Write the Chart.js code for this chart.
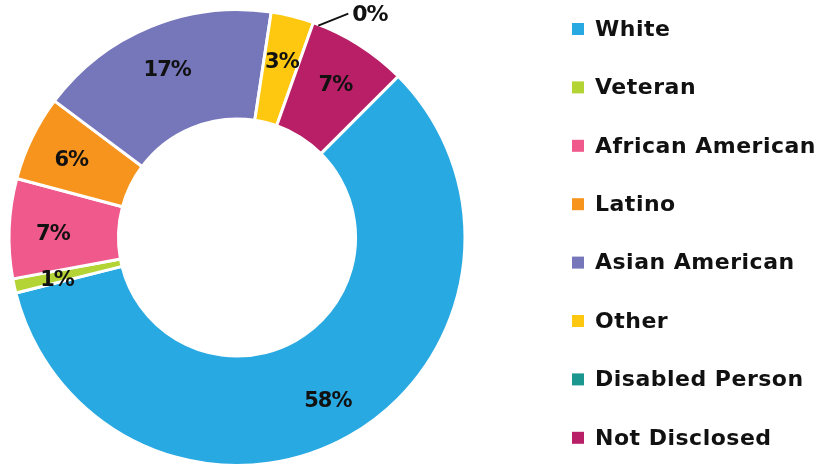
<!DOCTYPE html>
<html>
<head>
<meta charset="utf-8">
<script src="https://cdn.jsdelivr.net/npm/chart.js@4"></script>
<style>
  html, body { margin: 0; padding: 0; background: #fff; }
  #wrap { position: relative; width: 821px; height: 467px; }
</style>
</head>
<body>
<div id="wrap"><canvas id="chart"></canvas></div>
<script>
const groups = ['White', 'Veteran', 'African American', 'Latino', 'Asian American', 'Other', 'Disabled Person', 'Not Disclosed'];
const shares = [58, 1, 7, 6, 17, 3, 0, 7];
const colors = ['#29a9e1', '#b4d335', '#f0598b', '#f7941e', '#7677bb', '#fec810', '#1c9790', '#b81f66'];

const fontFamily = '"DejaVu Sans", sans-serif';

// percent labels inside each slice, empty slices get a leader line outside
const sliceLabels = {
  id: 'sliceLabels',
  afterDatasetsDraw(chart) {
    const ctx = chart.ctx;
    const meta = chart.getDatasetMeta(0);
    ctx.save();
    ctx.fillStyle = '#111';
    ctx.textBaseline = 'middle';
    meta.data.forEach((arc, i) => {
      const text = shares[i] + '%';
      const mid = (arc.startAngle + arc.endAngle) / 2;
      if (shares[i] === 0) {
        const r = arc.outerRadius;
        const x0 = arc.x + Math.cos(mid) * r + 5;
        const y0 = arc.y + Math.sin(mid) * r + 3;
        const x1 = x0 + 30;
        const y1 = y0 - 12;
        ctx.strokeStyle = '#111';
        ctx.lineWidth = 2;
        ctx.beginPath();
        ctx.moveTo(x0, y0);
        ctx.lineTo(x1, y1);
        ctx.stroke();
        ctx.font = 'bold 22px ' + fontFamily;
        ctx.letterSpacing = '-1px';
        ctx.textAlign = 'left';
        ctx.fillText(text, x1 + 4, y1 + 2);
        return;
      }
      const r = arc.innerRadius + (arc.outerRadius - arc.innerRadius) * 0.6;
      ctx.font = 'bold 21px ' + fontFamily;
      ctx.letterSpacing = '-1px';
      ctx.textAlign = 'center';
      ctx.fillText(text, arc.x + Math.cos(mid) * r, arc.y + Math.sin(mid) * r + 4);
    });
    ctx.restore();
  }
};

// legend column to the right of the ring
const sideLegend = {
  id: 'sideLegend',
  afterDraw(chart) {
    const ctx = chart.ctx;
    ctx.save();
    ctx.font = 'bold 22px ' + fontFamily;
    ctx.letterSpacing = '0.5px';
    ctx.textBaseline = 'middle';
    ctx.textAlign = 'left';
    groups.forEach((name, i) => {
      const y = 29 + i * 58.4;
      ctx.fillStyle = colors[i];
      ctx.fillRect(572, y - 6, 12, 12);
      ctx.fillStyle = '#111';
      ctx.fillText(name, 595, y + 1);
    });
    ctx.restore();
  }
};

new Chart(document.getElementById('chart'), {
  type: 'doughnut',
  data: {
    labels: groups,
    datasets: [{
      data: shares,
      backgroundColor: colors,
      borderColor: '#fff',
      borderWidth: 3
    }]
  },
  options: {
    responsive: true,
    maintainAspectRatio: false,
    animation: false,
    rotation: 45,
    cutout: '52%',
    layout: { padding: { left: 7, top: 8, bottom: 0, right: 354 } },
    plugins: {
      legend: { display: false },
      tooltip: { enabled: false }
    }
  },
  plugins: [sliceLabels, sideLegend]
});
</script>
</body>
</html>
